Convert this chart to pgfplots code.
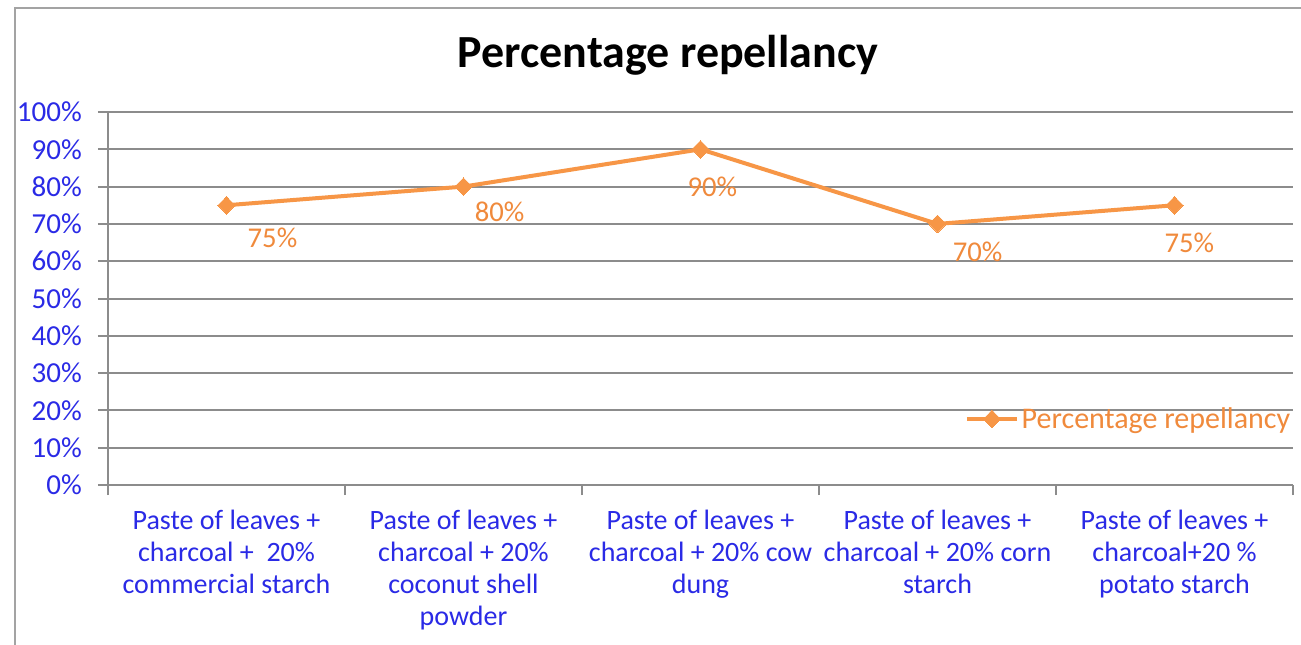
\documentclass[border=0pt]{standalone}
\usepackage{pgfplots}
\pgfplotsset{compat=1.18}
\usepackage{fontspec}
\setmainfont{Carlito}
\definecolor{lineor}{HTML}{F79646}
\definecolor{txtor}{HTML}{F08A3C}
\definecolor{tickblue}{HTML}{2A2AE6}
\definecolor{gridgray}{HTML}{8C8C8C}
\begin{document}
\begin{tikzpicture}
\useasboundingbox (0pt,0pt) rectangle (975.75pt,-483pt);
\clip (0pt,0pt) rectangle (975.75pt,-483pt);
\begin{scope}[x=0.75pt,y=-0.75pt]
\fill[white] (0,0) rectangle (1301,644);
\draw[gridgray!80, line width=1.5pt] (15,8) rectangle (1340,690);
\node[font=\fontsize{34.5}{40}\selectfont\bfseries] at (668,55) {Percentage repellancy};
\end{scope}
\begin{axis}[
  at={(81pt,-363.75pt)}, anchor=south west,
  scale only axis, width=888.75pt, height=279.75pt,
  xmin=-0.5, xmax=4.5, ymin=0, ymax=100,
  xtick={-0.5,0.5,1.5,2.5,3.5,4.5},
  xticklabels={{Paste of leaves +\\charcoal +\ \ 20\%\\commercial starch},
               {Paste of leaves +\\charcoal + 20\%\\coconut shell\\powder},
               {Paste of leaves +\\charcoal + 20\% cow\\dung},
               {Paste of leaves +\\charcoal + 20\% corn\\starch},
               {Paste of leaves +\\charcoal+20 \%\\potato starch},{}},
  xticklabel style={xshift=88.875pt, anchor=north, align=center, inner sep=0pt,
     font=\fontsize{21}{24}\selectfont, text=tickblue, yshift=-11pt, overlay},
  ytick={0,10,...,100},
  yticklabels={0\%,10\%,20\%,30\%,40\%,50\%,60\%,70\%,80\%,90\%,100\%},
  yticklabel style={font=\fontsize{21.75}{24}\selectfont, text=tickblue, inner sep=0pt, xshift=-12pt},
  tick align=outside, major tick length=7.5pt,
  tick style={gridgray, line width=1.5pt},
  ymajorgrids, grid style={gridgray, line width=1.5pt},
  axis x line*=bottom, axis y line*=left,
  axis line style={-, gridgray, line width=1.5pt},
  clip=false,
  legend style={at={(1,0.177)}, anchor=east, draw=none, fill=none, inner sep=0pt,
     font=\fontsize{22.5}{24}\selectfont, text=txtor},
  legend image code/.code={\draw[#1, mark repeat=2, mark phase=2] plot coordinates {(0pt,0pt) (18.75pt,0pt) (37.5pt,0pt)};},
]
\addplot[lineor, line width=3pt, mark=diamond*, mark size=6.6pt, mark options={xscale=1.3, line width=0pt}]
  coordinates {(0,75) (1,80) (2,90) (3,70) (4,75)};
\addlegendentry{Percentage repellancy}
\begin{scope}[every node/.style={font=\fontsize{21.5}{24}\selectfont, text=txtor}]
\node at (axis cs:0.194,66.2) {75\%};
\node at (axis cs:1.152,73.2) {80\%};
\node at (axis cs:2.05,79.9) {90\%};
\node at (axis cs:3.169,62.5) {70\%};
\node at (axis cs:4.063,64.9) {75\%};
\end{scope}
\end{axis}
\end{tikzpicture}
\end{document}
